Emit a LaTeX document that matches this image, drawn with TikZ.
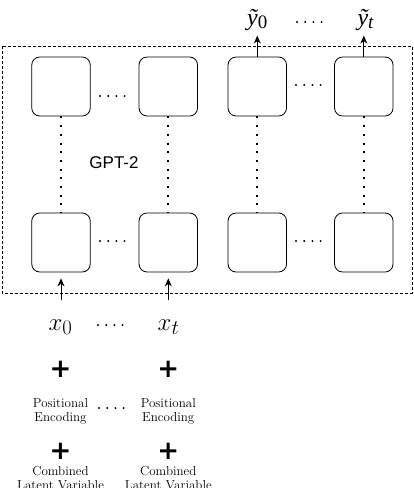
\documentclass[tikz,border=0pt]{standalone}
\usepackage{fontspec}
\newfontfamily\timesf{Liberation Serif}
\newfontfamily\arialf{Liberation Sans}
\newfontfamily\dejavuf{DejaVu Sans}
\usetikzlibrary{arrows.meta}
\begin{document}
\begin{tikzpicture}[x=1pt,y=-1pt,
  cell/.style={draw, line width=0.8pt, rounded corners=8pt, minimum width=58.5pt, minimum height=59pt, inner sep=0pt},
  arr/.style={-{Stealth[length=8pt,width=7pt]}, line width=0.8pt},
  vdots/.style={line width=2pt, dash pattern=on 2pt off 6.7pt},
  hdots/.style={line width=2.2pt, dash pattern=on 0pt off 8.2pt, line cap=round},
  lbl/.style={font=\fontsize{13}{14.5}\selectfont, align=center, inner sep=0pt},
  plusmark/.style={font=\dejavuf\bfseries\fontsize{26}{26}\selectfont, inner sep=0pt},
  frame/.style={draw, line width=0.8pt, dash pattern=on 3pt off 2pt}
]
\useasboundingbox (0,0) rectangle (414,488);

% GPT-2 frame
\draw[frame] (2,46) rectangle (412,293);

% cells
\node[cell] (t1) at (61,86.5) {};
\node[cell] (t2) at (168.3,86.5) {};
\node[cell] (t3) at (257.3,86.5) {};
\node[cell] (t4) at (363.8,86.5) {};
\node[cell] (b1) at (61,242.5) {};
\node[cell] (b2) at (168.3,242.5) {};
\node[cell] (b3) at (257.3,242.5) {};
\node[cell] (b4) at (363.8,242.5) {};

% vertical dotted links
\draw[vdots] (t1.south) -- (b1.north);
\draw[vdots] (t2.south) -- (b2.north);
\draw[vdots] (t3.south) -- (b3.north);
\draw[vdots] (t4.south) -- (b4.north);

% horizontal dots
\draw[hdots] (100,96) -- (125,96);
\draw[hdots] (296,85) -- (321,85);
\draw[hdots] (100,241) -- (125,241);
\draw[hdots] (296,241) -- (321,241);

\node[font=\arialf\fontsize{17}{17}\selectfont, anchor=base] (gpt) at (114,168) {GPT-2};

% outputs
\node[anchor=base] (y0) at (257.3,25) {\timesf\itshape\fontsize{24}{24}\selectfont ỹ\raisebox{-3pt}{\upshape\fontsize{19}{19}\selectfont 0}};
\node[anchor=base] (yt) at (365.5,25) {\timesf\itshape\fontsize{24}{24}\selectfont ỹ\raisebox{-3pt}{\fontsize{19}{19}\selectfont t}};
\draw[hdots] (297,22) -- (322,22);
\draw[arr] (t3.north) -- ([yshift=21pt]t3.north);
\draw[arr] (t4.north) -- ([yshift=21pt]t4.north);

% inputs
\coordinate (in1) at (61,300);
\coordinate (in2) at (168.3,300);
\draw[arr, shorten >=6pt] (in1) -- (b1.south);
\draw[arr, shorten >=6pt] (in2) -- (b2.south);

\node[anchor=base] (x0) at (60.5,330) {\fontsize{24.88}{26}\selectfont$x_0$};
\node[anchor=base] (xt) at (168.5,330) {\fontsize{24.88}{26}\selectfont$x_t$};
\draw[hdots] (98,325) -- (123,325);

\node[plusmark] (p1) at (60.5,369.5) {+};
\node[plusmark] (p2) at (168.3,369.5) {+};

\node[lbl] (pe1) at (60.5,411.5) {Positional\\Encoding};
\node[lbl] (pe2) at (168.3,411.5) {Positional\\Encoding};
\draw[hdots] (99,408) -- (124,408);

\node[plusmark] (p3) at (60.5,451) {+};
\node[plusmark] (p4) at (168.3,451) {+};

\node[lbl] (cl1) at (60.5,478) {Combined\\Latent Variable};
\node[lbl] (cl2) at (168.3,478) {Combined\\Latent Variable};
\end{tikzpicture}
\end{document}
